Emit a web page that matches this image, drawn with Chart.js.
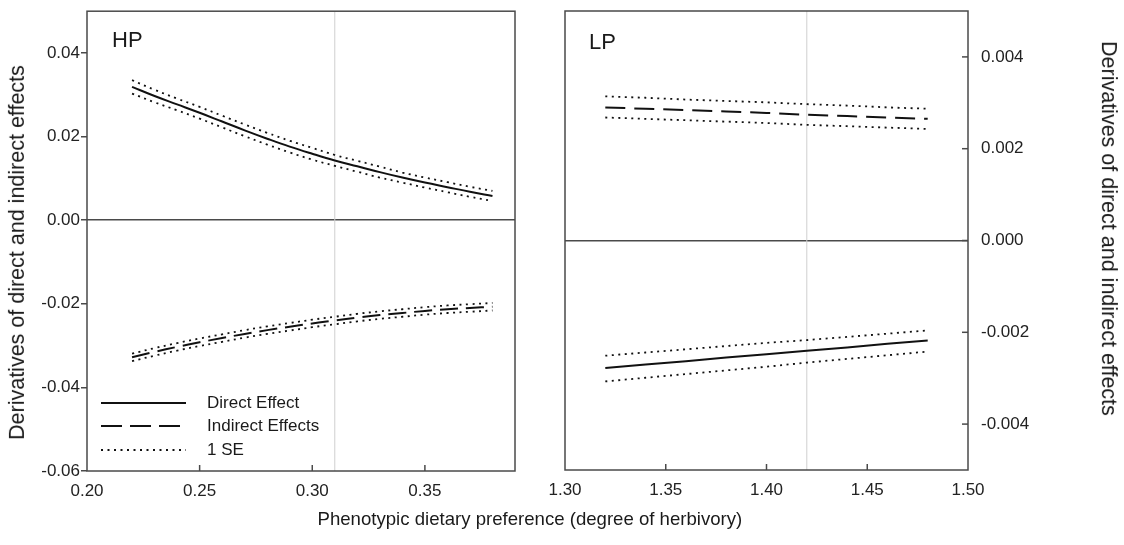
<!DOCTYPE html>
<html>
<head>
<meta charset="utf-8">
<script src="https://cdn.jsdelivr.net/npm/chart.js@4.4.1/dist/chart.umd.min.js"></script>
<style>
  html, body { margin: 0; padding: 0; background: #fff; }
  body { width: 1124px; height: 545px; position: relative; overflow: hidden; font-family: "Liberation Sans", Arial, sans-serif; color: #1a1a1a; }
  canvas { position: absolute; top: 0; }
  .t { position: absolute; white-space: nowrap; }
  .ytitle { font-size: 21.5px; transform-origin: center center; }
  .panel { font-size: 22px; }
  .leg { position: absolute; font-size: 17px; }
</style>
</head>
<body>
<canvas id="hp" width="545" height="545" style="left:0px"></canvas>
<canvas id="lp" width="579" height="545" style="left:545px"></canvas>

<div class="t panel" style="left:112px; top:27px;">HP</div>
<div class="t panel" style="left:589px; top:29px;">LP</div>

<div class="t ytitle" id="ytl">Derivatives of direct and indirect effects</div>
<div class="t ytitle" id="ytr">Derivatives of direct and indirect effects</div>
<div class="t" id="xt" style="font-size:18.6px;">Phenotypic dietary preference (degree of herbivory)</div>

<svg style="position:absolute; left:0; top:0;" width="545" height="545">
  <line x1="101" y1="403" x2="186" y2="403" stroke="#111" stroke-width="2"/>
  <line x1="101" y1="426" x2="186" y2="426" stroke="#111" stroke-width="2" stroke-dasharray="21 8"/>
  <line x1="101" y1="450" x2="186" y2="450" stroke="#111" stroke-width="1.8" stroke-dasharray="2 4.5"/>
</svg>
<div class="leg" style="left:207px; top:393px;">Direct Effect</div>
<div class="leg" style="left:207px; top:416px;">Indirect Effects</div>
<div class="leg" style="left:207px; top:440px;">1 SE</div>

<script>
// ---------------- DATA ----------------
const hpX = [0.22,0.23,0.24,0.25,0.26,0.27,0.28,0.29,0.30,0.31,0.32,0.33,0.34,0.35,0.36,0.37,0.38];
const hpDirect      = [0.0319,0.0297,0.0277,0.0257,0.0236,0.0215,0.0195,0.0176,0.0159,0.0143,0.0129,0.0115,0.0102,0.0090,0.0079,0.0068,0.0058];
const hpDirectUpper = [0.0335,0.0312,0.0291,0.0271,0.0250,0.0229,0.0209,0.0190,0.0173,0.0156,0.0142,0.0128,0.0114,0.0102,0.0091,0.0080,0.0070];
const hpDirectLower = [0.0303,0.0282,0.0263,0.0243,0.0222,0.0201,0.0181,0.0162,0.0145,0.0130,0.0116,0.0102,0.0090,0.0078,0.0067,0.0056,0.0046];
const hpIndirect      = [-0.0328,-0.0315,-0.0303,-0.0292,-0.0282,-0.0272,-0.0263,-0.0255,-0.0247,-0.0240,-0.0233,-0.0227,-0.0222,-0.0217,-0.0213,-0.0210,-0.0207];
const hpIndirectUpper = [-0.0319,-0.0306,-0.0294,-0.0283,-0.0273,-0.0263,-0.0254,-0.0246,-0.0238,-0.0231,-0.0224,-0.0218,-0.0213,-0.0208,-0.0204,-0.0201,-0.0198];
const hpIndirectLower = [-0.0337,-0.0324,-0.0312,-0.0301,-0.0291,-0.0281,-0.0272,-0.0264,-0.0256,-0.0249,-0.0242,-0.0236,-0.0231,-0.0226,-0.0222,-0.0219,-0.0216];

const lpX = [1.32,1.34,1.36,1.38,1.40,1.42,1.44,1.46,1.48];
const lpIndirect      = [0.00290,0.00287,0.00284,0.00281,0.00278,0.00274,0.00271,0.00268,0.00265];
const lpIndirectUpper = [0.00314,0.00311,0.00307,0.00304,0.00301,0.00297,0.00294,0.00290,0.00287];
const lpIndirectLower = [0.00268,0.00265,0.00262,0.00259,0.00256,0.00252,0.00249,0.00246,0.00243];
const lpDirect      = [-0.00278,-0.00270,-0.00263,-0.00255,-0.00248,-0.00240,-0.00233,-0.00225,-0.00218];
const lpDirectUpper = [-0.00251,-0.00244,-0.00237,-0.00230,-0.00223,-0.00217,-0.00210,-0.00203,-0.00196];
const lpDirectLower = [-0.00307,-0.00299,-0.00291,-0.00283,-0.00275,-0.00266,-0.00258,-0.00250,-0.00242];

const hpXTicks = [0.20,0.25,0.30,0.35];
const hpYTicks = [-0.06,-0.04,-0.02,0.00,0.02,0.04];
const lpXTicks = [1.30,1.35,1.40,1.45,1.50];
const lpYTicks = [-0.004,-0.002,0.000,0.002,0.004];
const hpRange = { xMin: 0.20, xMax: 0.39, yMin: -0.06, yMax: 0.05 };
const lpRange = { xMin: 1.30, xMax: 1.50, yMin: -0.005, yMax: 0.005 };
const hpRefX = 0.31;
const lpRefX = 1.42;

// ---------------- HELPERS ----------------
const pts = (xs, ys) => xs.map((x, i) => ({ x: x, y: ys[i] }));
const FONT = { family: "'Liberation Sans', Arial, sans-serif", size: 17 };
const TXT = '#222';
const AX = '#4a4a4a';
const CLEAR = 'rgba(0,0,0,0)';

function solid(xs, ys, tension) {
  return { data: pts(xs, ys), borderColor: '#111', borderWidth: 2, pointRadius: 0, tension: tension, fill: false };
}
function dashed(xs, ys, tension, dash) {
  return { data: pts(xs, ys), borderColor: '#111', borderWidth: 2, borderDash: dash, pointRadius: 0, tension: tension, fill: false };
}
function dotted(xs, ys, tension) {
  return { data: pts(xs, ys), borderColor: '#111', borderWidth: 1.8, borderDash: [2, 4.5], pointRadius: 0, tension: tension, fill: false };
}
function refLine(x, r) {
  return { data: [{ x: x, y: r.yMin }, { x: x, y: r.yMax }], borderColor: '#cfcfcf', borderWidth: 1, pointRadius: 0, fill: false };
}

const framePlugin = {
  id: 'frame',
  afterDatasetsDraw(chart, args, opts) {
    const { ctx, chartArea: a } = chart;
    ctx.save();
    ctx.strokeStyle = AX;
    ctx.lineWidth = 1.5;
    ctx.strokeRect(a.left, a.top, a.right - a.left, a.bottom - a.top);
    (opts.inner || []).forEach(id => {
      const s = chart.scales[id];
      s.ticks.forEach(t => {
        const p = s.getPixelForValue(t.value);
        ctx.beginPath();
        if (s.isHorizontal()) {
          if (p <= a.left + 1 || p >= a.right - 1) return;
          ctx.moveTo(p, a.bottom); ctx.lineTo(p, a.bottom - 6);
        } else {
          if (p <= a.top + 1 || p >= a.bottom - 1) return;
          ctx.moveTo(a.right, p); ctx.lineTo(a.right - 6, p);
        }
        ctx.stroke();
      });
    });
    ctx.restore();
  }
};

const zeroGrid = ctx => (ctx.tick && Math.abs(ctx.tick.value) < 1e-12) ? AX : CLEAR;

// ---------------- HP CHART ----------------
new Chart(document.getElementById('hp'), {
  type: 'line',
  data: {
    datasets: [
      solid(hpX, hpDirect, 0.4),
      dotted(hpX, hpDirectUpper, 0.4),
      dotted(hpX, hpDirectLower, 0.4),
      dashed(hpX, hpIndirect, 0.4, [18, 8]),
      dotted(hpX, hpIndirectUpper, 0.4),
      dotted(hpX, hpIndirectLower, 0.4),
      refLine(hpRefX, hpRange)
    ]
  },
  options: {
    responsive: false, animation: false, devicePixelRatio: 1,
    layout: { padding: { left: 0, top: 11, right: 30, bottom: 0 } },
    plugins: { legend: { display: false }, tooltip: { enabled: false }, frame: { inner: ['x'] } },
    scales: {
      x: {
        type: 'linear', min: hpRange.xMin, max: hpRange.xMax,
        afterBuildTicks: s => { s.ticks = hpXTicks.map(v => ({ value: v })); },
        afterFit: s => { s.height = 74; },
        grid: { display: false, drawTicks: true, tickLength: 10, tickColor: CLEAR },
        border: { display: false },
        ticks: { font: FONT, color: TXT, padding: 0, maxRotation: 0, callback: v => v.toFixed(2) }
      },
      y: {
        type: 'linear', min: hpRange.yMin, max: hpRange.yMax,
        afterBuildTicks: s => { s.ticks = hpYTicks.map(v => ({ value: v })); },
        afterFit: s => { s.width = 87; },
        grid: { color: zeroGrid, lineWidth: 1.5, drawTicks: true, tickLength: 6, tickColor: AX, tickWidth: 1.5 },
        border: { display: false },
        ticks: { font: FONT, color: TXT, padding: 1, callback: v => v.toFixed(2) }
      }
    }
  },
  plugins: [framePlugin]
});

// ---------------- LP CHART ----------------
new Chart(document.getElementById('lp'), {
  type: 'line',
  data: {
    datasets: [
      solid(lpX, lpDirect, 0),
      dotted(lpX, lpDirectUpper, 0),
      dotted(lpX, lpDirectLower, 0),
      dashed(lpX, lpIndirect, 0, [20, 9]),
      dotted(lpX, lpIndirectUpper, 0),
      dotted(lpX, lpIndirectLower, 0),
      refLine(lpRefX, lpRange)
    ]
  },
  options: {
    responsive: false, animation: false, devicePixelRatio: 1,
    layout: { padding: { left: 20, top: 11, right: 0, bottom: 0 } },
    plugins: { legend: { display: false }, tooltip: { enabled: false }, frame: { inner: ['x', 'y'] } },
    scales: {
      x: {
        type: 'linear', min: lpRange.xMin, max: lpRange.xMax,
        afterBuildTicks: s => { s.ticks = lpXTicks.map(v => ({ value: v })); },
        afterFit: s => { s.height = 75; },
        grid: { display: false, drawTicks: true, tickLength: 10, tickColor: CLEAR },
        border: { display: false },
        ticks: { font: FONT, color: TXT, padding: 0, maxRotation: 0, callback: v => v.toFixed(2) }
      },
      y: {
        type: 'linear', position: 'right', min: lpRange.yMin, max: lpRange.yMax,
        afterBuildTicks: s => { s.ticks = lpYTicks.map(v => ({ value: v })); },
        afterFit: s => { s.width = 156; },
        grid: { color: zeroGrid, lineWidth: 1.5, drawTicks: true, tickLength: 13, tickColor: CLEAR },
        border: { display: false },
        ticks: { font: FONT, color: TXT, padding: 0, callback: v => v.toFixed(3) }
      }
    }
  },
  plugins: [framePlugin]
});

// ---------------- TITLES ----------------
function place(el, cx, cy, rot) {
  const w = el.offsetWidth, h = el.offsetHeight;
  el.style.left = (cx - w / 2) + 'px';
  el.style.top = (cy - h / 2) + 'px';
  if (rot) el.style.transform = 'rotate(' + rot + 'deg)';
}
place(document.getElementById('ytl'), 17, 252, -90);
place(document.getElementById('ytr'), 1108, 228, 90);
place(document.getElementById('xt'), 530, 519, 0);
</script>
</body>
</html>
